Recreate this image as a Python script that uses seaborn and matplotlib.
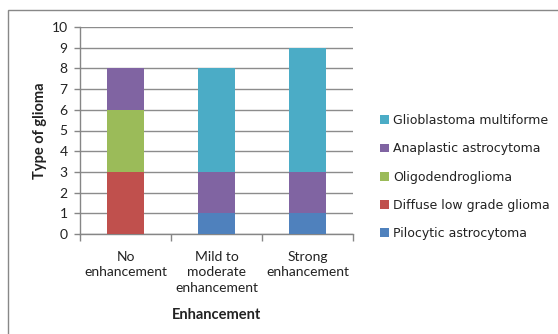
import matplotlib
matplotlib.use("Agg")
import matplotlib.pyplot as plt
import seaborn as sns
import numpy as np
import pandas as pd
from matplotlib.patches import Patch, Rectangle

categories = ["No\nenhancement", "Mild to\nmoderate\nenhancement", "Strong\nenhancement"]
pilocytic = [0, 1, 1]
diffuse = [3, 0, 0]
oligo = [3, 0, 0]
anaplastic = [2, 2, 2]
glioblastoma = [0, 5, 6]

series_names = ["Pilocytic astrocytoma", "Diffuse low grade glioma", "Oligodendroglioma",
                "Anaplastic astrocytoma", "Glioblastoma multiforme"]
series_vals = [pilocytic, diffuse, oligo, anaplastic, glioblastoma]
colors = ["#4F81BD", "#C0504D", "#9BBB59", "#8064A2", "#4BACC6"]

sns.set_theme(style="white")
plt.rcParams['font.family'] = ['Lato', 'DejaVu Sans']

fig = plt.figure(figsize=(5.58, 3.34), dpi=100)
ax = fig.add_axes([80/558, 1-234/334, 273/558, 207/334])

cum = np.cumsum(np.array(series_vals), axis=0)
for i in range(len(series_names)-1, -1, -1):
    df = pd.DataFrame({"cat": categories, "val": cum[i]})
    sns.barplot(data=df, x="cat", y="val", color=colors[i], width=0.41,
                saturation=1, ax=ax, zorder=3, linewidth=0, edgecolor="none")

ax.set_xlim(-0.5, 2.5)
ax.set_ylim(0, 10)
ax.set_yticks(range(0, 11))
ax.yaxis.grid(True, color="#8c8c8c", lw=1)
ax.set_axisbelow(True)
for s in ["top", "right"]:
    ax.spines[s].set_visible(False)
for s in ["left", "bottom"]:
    ax.spines[s].set_color("#868686")
    ax.spines[s].set_linewidth(1)

ax.set_xticks([0, 1, 2])
ax.set_xticklabels(categories, fontsize=10, linespacing=1.35, color="#222222")
ax.set_xticks([-0.5, 0.5, 1.5, 2.5], minor=True)
ax.tick_params(axis="x", which="major", length=0, pad=12)
ax.tick_params(axis="x", which="minor", length=5, width=1, color="#868686", bottom=True)
ax.tick_params(axis="y", which="major", length=4, width=1, color="#868686", left=True,
               labelsize=10, pad=5, labelcolor="#222222")

ax.set_xlabel("Enhancement", fontsize=10.5, fontweight="bold", labelpad=10, color="#222222")
ax.set_ylabel("Type of glioma", fontsize=10.5, fontweight="bold", labelpad=3, color="#222222")

handles = [Patch(facecolor=colors[i], edgecolor="none", label=series_names[i])
           for i in range(len(series_names)-1, -1, -1)]
leg = fig.legend(handles=handles, loc="center left", bbox_to_anchor=(369/558, 1-177/334),
                 frameon=False, prop={"family": ["DejaVu Sans"], "size": 9},
                 handlelength=0.7, handleheight=0.7,
                 handletextpad=0.3, labelspacing=1.22, labelcolor="#222222")

fig.patches.append(Rectangle((8/558, -0.05), 1.1, 1-10/334+0.05, transform=fig.transFigure,
                             fill=False, edgecolor="#888888", lw=1))

fig.savefig("out.png", dpi=100)
